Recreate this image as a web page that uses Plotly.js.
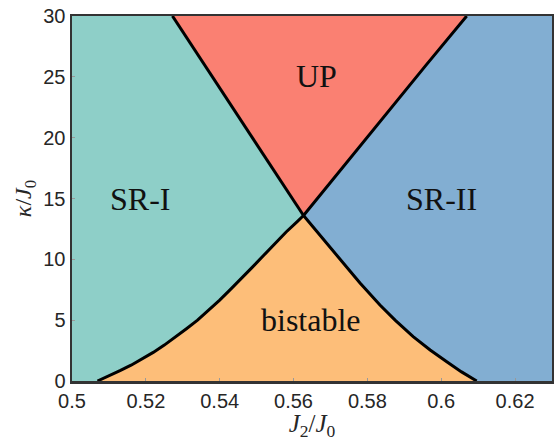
<!DOCTYPE html>
<html>
<head>
<meta charset="utf-8">
<script src="https://cdn.plot.ly/plotly-3.0.1.min.js"></script>
<style>html,body{margin:0;padding:0;background:#fff;}#chart{width:554px;height:441px;}</style>
</head>
<body>
<div id="chart"></div>
<script>
// Phase boundaries (J2/J0, kappa/J0)
const lowerLeftJ = [0.5069, 0.5100, 0.5130, 0.5160, 0.5190, 0.5220, 0.5250, 0.5280, 0.5310, 0.5340, 0.5370, 0.5400, 0.5430, 0.5460, 0.5490, 0.5520, 0.5550, 0.5580, 0.5610, 0.5627];
const lowerLeftK = [0.0, 0.40, 0.85, 1.30, 1.80, 2.35, 2.95, 3.60, 4.30, 5.00, 5.80, 6.65, 7.55, 8.45, 9.40, 10.35, 11.30, 12.25, 13.10, 13.6];
const lowerRightJ = [0.5627, 0.5700, 0.5780, 0.5834, 0.5875, 0.5924, 0.5970, 0.6015, 0.6055, 0.6096];
const lowerRightK = [13.6, 10.95, 8.05, 6.24, 5.00, 3.64, 2.55, 1.58, 0.75, 0.0];
const upperLeftJ = [0.5627, 0.5523, 0.5433, 0.5342, 0.5272];
const upperLeftK = [13.6, 18.4, 22.5, 26.8, 30.0];
const upperRightJ = [0.5627, 0.5753, 0.5843, 0.5960, 0.6069];
const upperRightK = [13.6, 18.3, 21.7, 26.0, 30.0];

const xRange = [0.5, 0.63];
const yRange = [0, 30];
const xTicks = [0.5, 0.52, 0.54, 0.56, 0.58, 0.6, 0.62];
const xTickText = ['0.5', '0.52', '0.54', '0.56', '0.58', '0.6', '0.62'];
const yTicks = [0, 5, 10, 15, 20, 25, 30];

const regionNames = ['SR-I', 'UP', 'SR-II', 'bistable'];
const regionLabelJ = [0.5184, 0.5661, 0.6000, 0.5647];
const regionLabelK = [15.0, 25.1, 15.0, 5.0];

const colors = {sr1: '#8ecfc8', up: '#fa8072', sr2: '#82aed2', bi: '#fdbe79'};

const rev = a => a.slice().reverse();

// SR-I polygon
const sr1X = [xRange[0], ...lowerLeftJ, ...upperLeftJ.slice(1), xRange[0]];
const sr1Y = [yRange[0], ...lowerLeftK, ...upperLeftK.slice(1), yRange[1]];
// bistable polygon
const biX = [...lowerLeftJ, ...lowerRightJ.slice(1)];
const biY = [...lowerLeftK, ...lowerRightK.slice(1)];
// UP polygon
const upX = [...rev(upperLeftJ), ...upperRightJ.slice(1)];
const upY = [...rev(upperLeftK), ...upperRightK.slice(1)];
// SR-II polygon
const sr2X = [...rev(lowerRightJ), ...upperRightJ.slice(1), xRange[1], xRange[1]];
const sr2Y = [...rev(lowerRightK), ...upperRightK.slice(1), yRange[1], yRange[0]];

function region(x, y, c) {
  return {x: x, y: y, type: 'scatter', mode: 'lines', fill: 'toself', fillcolor: c,
    line: {width: 0.5, color: c}, hoverinfo: 'skip', showlegend: false};
}
function boundary(x, y) {
  return {x: x, y: y, type: 'scatter', mode: 'lines', line: {color: '#000', width: 3},
    hoverinfo: 'skip', showlegend: false};
}

const data = [
  region(sr1X, sr1Y, colors.sr1),
  region(biX, biY, colors.bi),
  region(upX, upY, colors.up),
  region(sr2X, sr2Y, colors.sr2),
  boundary(lowerLeftJ, lowerLeftK),
  boundary(lowerRightJ, lowerRightK),
  boundary(upperLeftJ, upperLeftK),
  boundary(upperRightJ, upperRightK)
];

const annotations = regionNames.map((t, i) => ({
  x: regionLabelJ[i], y: regionLabelK[i], xref: 'x', yref: 'y', text: t, showarrow: false,
  font: {family: 'Liberation Serif, serif', size: 32, color: '#111'}
}));

const layout = {
  width: 554, height: 441,
  margin: {l: 72, r: 2, t: 16, b: 60},
  paper_bgcolor: '#fff', plot_bgcolor: '#fff',
  showlegend: false,
  xaxis: {
    range: xRange, tickvals: xTicks, ticktext: xTickText,
    showgrid: false, zeroline: false,
    showline: true, mirror: true, linecolor: '#333', linewidth: 2.5,
    ticks: 'inside', ticklen: 3, tickcolor: '#999',
    tickfont: {family: 'Liberation Sans, Arial, sans-serif', size: 20, color: '#262626'},
    title: {text: '<i>J</i><sub>2</sub>/<i>J</i><sub>0</sub>', standoff: 2,
      font: {family: 'Liberation Serif, serif', size: 25, color: '#262626'}}
  },
  yaxis: {
    range: yRange, tickvals: yTicks,
    showgrid: false, zeroline: false,
    showline: true, mirror: true, linecolor: '#333', linewidth: 2.5,
    ticks: 'inside', ticklen: 3, tickcolor: '#999',
    tickfont: {family: 'Liberation Sans, Arial, sans-serif', size: 20, color: '#262626'},
    title: {text: '<i>κ</i>/<i>J</i><sub>0</sub>', standoff: 5,
      font: {family: 'Liberation Serif, serif', size: 24, color: '#262626'}}
  },
  annotations: annotations
};

Plotly.newPlot('chart', data, layout, {displayModeBar: false, staticPlot: true});
</script>
</body>
</html>
